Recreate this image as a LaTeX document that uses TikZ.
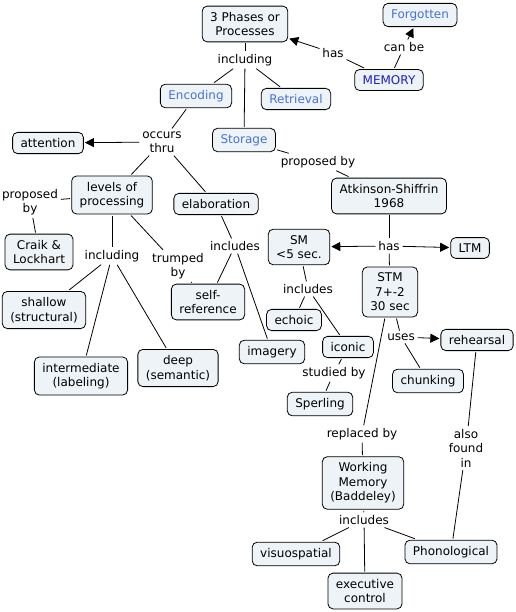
\documentclass[tikz,border=0pt]{standalone}
\usepackage{fontspec}
\setmainfont{DejaVu Sans}
\usepackage{tikz}
\usetikzlibrary{positioning, arrows.meta}
\definecolor{cfill}{RGB}{237,243,246}
\definecolor{lblue}{RGB}{70,115,215}
\definecolor{dblue}{RGB}{30,30,200}

\begin{document}
\begin{tikzpicture}[x=1pt, y=-1pt, line width=0.8pt]
\tikzstyle{concept}=[draw, rectangle, fill=cfill, rounded corners=5pt, align=center, inner xsep=8pt, inner ysep=6pt, outer sep=1.5pt, font=\fontsize{12}{14.5}\selectfont]
\tikzstyle{link}=[align=center, inner sep=2.5pt, font=\fontsize{12}{14.5}\selectfont]
\tikzstyle{arr}=[-{Triangle[length=9pt, width=9pt]}]
\useasboundingbox (0,0) rectangle (515,612);

\node[concept](phases) 	at	(245,24){3 Phases or\\Processes};
\node[concept, text=lblue](forgot) 	at	(420,15){Forgotten};
\node[concept, text=dblue](memory) 	at	(389,80){MEMORY};
\node[concept, text=lblue](encode) 	at	(196,96){Encoding};
\node[concept, text=lblue](retr) 	at	(296,99){Retrieval};
\node[concept, text=lblue](store) 	at	(244,140){Storage};
\node[concept](attn) 		at	(48,143){attention};
\node[concept](levels) 	at	(112,195){levels of\\processing};
\node[concept](elab) 		at	(216,204){elaboration};
\node[concept](atkin) 	at	(389,196){Atkinson-Shiffrin\\1968};
\node[concept](craik) 	at	(39,252){Craik \&\\Lockhart};
\node[concept](sm) 		at	(299,247){SM\\<5 sec.};
\node[concept](ltm) 		at	(470,248){LTM};
\node[concept](stm) 		at	(390,292){STM\\7+-2\\30 sec};
\node[concept](shallow) 	at	(44,310){shallow\\(structural)};
\node[concept](selfref) 	at	(208,302){self-\\reference};
\node[concept](echoic) 	at	(294,320){echoic};
\node[concept](imagery) 	at	(272,352){imagery};
\node[concept](iconic) 	at	(348,347){iconic};
\node[concept](rehear) 	at	(477,340){rehearsal};
\node[concept](inter) 	at	(81,376){intermediate\\(labeling)};
\node[concept](deep) 		at	(178,368){deep\\(semantic)};
\node[concept](chunk) 	at	(428,381){chunking};
\node[concept](sperl) 	at	(320,404){Sperling};
\node[concept](working) 	at	(363,483){Working\\Memory\\(Baddeley)};
\node[concept](visuo) 	at	(296,554){visuospatial};
\node[concept](phono) 	at	(451,552){Phonological};
\node[concept](exec) 		at	(365,591){executive\\control};

\node[link](incl1) 		at	(245,60){including};
\node[link](has1) 		at	(333,53){has};
\node[link](canbe) 		at	(404,47){can be};
\node[link](occurs) 		at	(162,142){occurs\\thru};
\node[link](prop1) 		at	(318,162){proposed by};
\node[link](prop2) 		at	(30,202){proposed\\by};
\node[link](incl2) 		at	(112,256){including};
\node[link](trump) 		at	(178,266){trumped\\by};
\node[link](incl3) 		at	(235,246){includes};
\node[link](has2) 		at	(389,246){has};
\node[link](incl4) 		at	(308,289){includes};
\node[link](uses) 		at	(401,337){uses};
\node[link](studied) 	at	(334,373){studied by};
\node[link](replaced) 	at	(362,434){replaced by};
\node[link](also) 		at	(466,448){also\\found\\in};
\node[link](incl5) 		at	(364,520){includes};

\path[draw](phases) -- (incl1);
\path[draw](incl1) -- (encode);
\path[draw](incl1) -- (retr);
\path[draw](incl1) -- (store);

\path[draw](memory) -- (has1);
\path[draw, arr](has1) -- (phases);
\path[draw](memory) -- (canbe);
\path[draw, arr](canbe) -- (forgot);

\path[draw](encode) -- (occurs);
\path[draw, arr](occurs) -- (attn);
\path[draw](occurs) -- (levels);
\path[draw](occurs) -- (elab);

\path[draw](store) -- (prop1);
\path[draw](prop1) -- (atkin);

\path[draw](levels) -- (prop2);
\path[draw](prop2) -- (craik);
\path[draw](levels) -- (incl2);
\path[draw](incl2) -- (shallow);
\path[draw](incl2) -- (inter);
\path[draw](incl2) -- (deep);
\path[draw](levels) -- (trump);
\path[draw](trump) -- (selfref);

\path[draw](elab) -- (incl3);
\path[draw](incl3) -- (selfref);
\path[draw](incl3) -- (imagery);

\path[draw](atkin) -- (has2);
\path[draw, arr](has2) -- (sm);
\path[draw, arr](has2) -- (ltm);
\path[draw](has2) -- (stm);

\path[draw](sm) -- (incl4);
\path[draw](incl4) -- (echoic);
\path[draw](incl4) -- (iconic);
\path[draw](iconic) -- (studied);
\path[draw](studied) -- (sperl);

\path[draw](stm) -- (uses);
\path[draw, arr](uses) -- (rehear);
\path[draw](uses) -- (chunk);
\path[draw](stm) -- (replaced);
\path[draw](replaced) -- (working);

\path[draw](rehear) -- (also);
\path[draw](also) -- (phono);

\path[draw](working) -- (incl5);
\path[draw](incl5) -- (visuo);
\path[draw](incl5) -- (exec);
\path[draw](incl5) -- (phono);

\end{tikzpicture}
\end{document}
